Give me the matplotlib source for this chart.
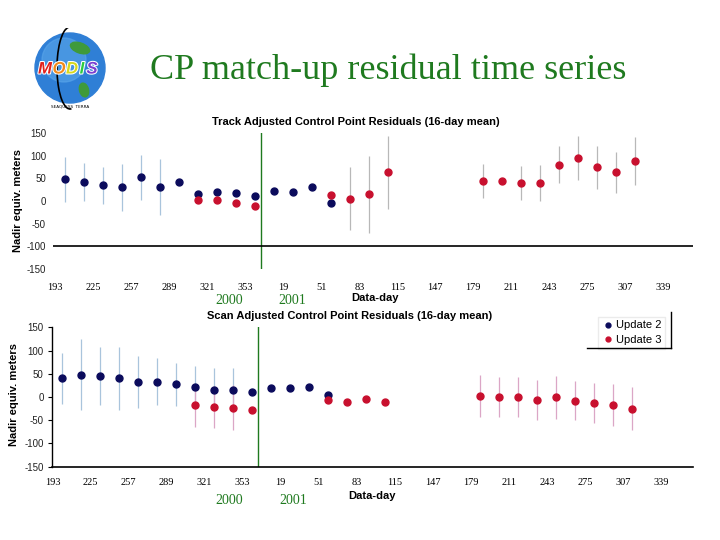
import matplotlib
matplotlib.use("Agg")
import matplotlib.pyplot as plt
import matplotlib.patheffects as pe
from matplotlib.patches import Circle, Ellipse, Arc
from matplotlib.lines import Line2D

# 16-day bin centres (day of year, 2001 days continue past 366)
days_u2 = [201, 217, 233, 249, 265, 281, 297, 313, 329, 345, 361, 377, 393, 409, 425]
days_u3 = [313, 329, 345, 361, 425, 441, 457, 473, 553, 569, 585, 601, 617, 633, 649, 665, 681]

# Track adjusted residuals
track_u2 = [48, 42, 35, 30, 52, 31, 41, 15, 19, 18, 12, 21, 19, 30, -4]
track_u2_err = [50, 42, 41, 51, 50, 62, 0, 0, 0, 0, 0, 0, 0, 0, 0]
track_u3 = [2, 2, -4, -10, 13, 5, 15, 63, 44, 44, 40, 40, 80, 95, 74, 63, 88]
track_u3_err = [0, 0, 0, 0, 0, 70, 85, 81, 38, 0, 38, 39, 41, 48, 47, 46, 53]

# Scan adjusted residuals
scan_u2 = [40, 48, 45, 40, 32, 33, 27, 22, 16, 14, 10, 19, 19, 22, 4]
scan_u2_err = [55, 77, 62, 67, 56, 50, 46, 45, 46, 48, 0, 0, 0, 0, 0]
scan_u3 = [-18, -22, -23, -28, -7, -11, -5, -11, 3, 0, 0, -7, -1, -8, -12, -17, -25]
scan_u3_err = [47, 45, 49, 0, 0, 0, 0, 0, 45, 44, 44, 43, 46, 42, 43, 45, 46]

tick_days = [193 + 32 * k for k in range(17)]
tick_labels = [str(d if d <= 366 else d - 366) for d in tick_days]
y_ticks = [150, 100, 50, 0, -50, -100, -150]

navy = "#0b0b5c"
red = "#c8102e"
green = "#1f7a1f"

fig = plt.figure(figsize=(7.2, 5.4), dpi=100)

# ---- title + logo
fig.text(388 / 720, 1 - 70 / 540, "CP match-up residual time series", ha="center", va="center",
         fontsize=26, color=green, family="Liberation Serif")

logo = fig.add_axes([28 / 720, 1 - 112 / 540, 84 / 720, 84 / 540])
logo.set_xlim(0, 84)
logo.set_ylim(0, 84)
logo.axis("off")
logo.add_patch(Circle((42, 44), 35, color="#2f7fd6"))
logo.add_patch(Circle((36, 52), 22, color="#5aa6ea", alpha=0.6))
logo.add_patch(Ellipse((52, 64), 20, 10, angle=-20, color="#3f9a3a"))
logo.add_patch(Ellipse((56, 22), 9, 14, angle=15, color="#3f9a3a"))
logo.add_patch(Arc((42, 44), 26, 82, theta1=92, theta2=272, color="black", lw=1.2))
modis_x = [17, 31, 44, 54, 64]
for x, ch, c in zip(modis_x, "MODIS", ["#e0201c", "#f28a1a", "#d8d81c", "#2ecc40", "#7a3fd0"]):
    logo.text(x, 43, ch, color=c, fontsize=12, fontweight="bold", style="italic",
              ha="center", va="center", family="Liberation Sans", zorder=5,
              path_effects=[pe.withStroke(linewidth=1.5, foreground="white")])
logo.text(42, 5, "SEAQUESS  TERRA", fontsize=3, ha="center", va="center")


def draw_panel(ax, u2, u2_err, u3, u3_err, u2_ecol, u3_ecol):
    ax.errorbar(days_u2, u2, yerr=u2_err, fmt="none", ecolor=u2_ecol, elinewidth=0.9, capsize=0)
    ax.errorbar(days_u3, u3, yerr=u3_err, fmt="none", ecolor=u3_ecol, elinewidth=0.9, capsize=0)
    ax.plot(days_u2, u2, "o", color=navy, ms=5, label="Update 2", zorder=3)
    ax.plot(days_u3, u3, "o", color=red, ms=5, label="Update 3", zorder=3)
    ax.axvline(366, color=green, lw=1)
    ax.set_ylim(-150, 150)
    ax.set_yticks(y_ticks)
    ax.set_yticklabels([str(v) for v in y_ticks], fontsize=7, color="#222222", family="Liberation Sans")
    ax.set_xticks(tick_days)
    ax.set_xticklabels(tick_labels, fontsize=7.5, family="Liberation Serif")
    ax.set_facecolor("none")


# ---- top panel
ax1 = fig.add_axes([53 / 720, 1 - 269 / 540, 640 / 720, 136 / 540])
draw_panel(ax1, track_u2, track_u2_err, track_u3, track_u3_err, "#a9c4dc", "#b8b8b8")
ax1.set_xlim(191, 730)
ax1.axhline(-100, color="black", lw=1.2)
for s in ax1.spines.values():
    s.set_visible(False)
ax1.tick_params(axis="x", length=0, pad=10)
ax1.tick_params(axis="y", length=0, pad=5)
ax1.set_xticks([609, 673], minor=True)
ax1.tick_params(axis="x", which="minor", length=3, direction="out")

# ---- bottom panel
ax2 = fig.add_axes([52 / 720, 1 - 466.7 / 540, 641 / 720, 139.4 / 540])
draw_panel(ax2, scan_u2, scan_u2_err, scan_u3, scan_u3_err, "#a9c4dc", "#dba6c6")
ax2.set_xlim(192.5, 732)
for s in ["top", "right"]:
    ax2.spines[s].set_visible(False)
ax2.spines["bottom"].set_linewidth(1.2)
ax2.spines["left"].set_linewidth(1)
ax2.tick_params(axis="x", length=0, pad=8)
ax2.tick_params(axis="y", length=3, pad=3)
ax2.set_xticks([225, 545, 577, 609], minor=True)
ax2.tick_params(axis="x", which="minor", length=3, direction="out")

leg = ax2.legend(loc="upper right", bbox_to_anchor=(671 / 720, 1 - 311 / 540), bbox_transform=fig.transFigure,
                 markerscale=0.7, handletextpad=0.1, handlelength=1.2, borderpad=0.35,
                 labelspacing=0.4, fancybox=False, prop={"family": "Liberation Sans", "size": 8})
leg.get_frame().set_edgecolor("#e6e6e6")
fig.add_artist(Line2D([671 / 720, 671 / 720], [1 - 312 / 540, 1 - 348 / 540], color="black", lw=1))
fig.add_artist(Line2D([587 / 720, 671 / 720], [1 - 348 / 540, 1 - 348 / 540], color="black", lw=1))

# ---- panel texts
fig.text(356 / 720, 1 - 122 / 540, "Track Adjusted Control Point Residuals (16-day mean)", ha="center",
         va="center", fontsize=8, fontweight="bold", family="Liberation Sans")
fig.text(350 / 720, 1 - 316 / 540, "Scan Adjusted Control Point Residuals (16-day mean)", ha="center",
         va="center", fontsize=8, fontweight="bold", family="Liberation Sans")
fig.text(18 / 720, 1 - 200 / 540, "Nadir equiv. meters", rotation=90, ha="center", va="center",
         fontsize=8, fontweight="bold", family="Liberation Sans")
fig.text(14 / 720, 1 - 395 / 540, "Nadir equiv. meters", rotation=90, ha="center", va="center",
         fontsize=8, fontweight="bold", family="Liberation Sans")
fig.text(375 / 720, 1 - 298 / 540, "Data-day", ha="center", va="center", fontsize=8,
         fontweight="bold", family="Liberation Sans")
fig.text(372 / 720, 1 - 496 / 540, "Data-day", ha="center", va="center", fontsize=8,
         fontweight="bold", family="Liberation Sans")
for x, y, t in [(229, 301, "2000"), (292, 301, "2001"), (229, 500, "2000"), (293, 500, "2001")]:
    fig.text(x / 720, 1 - y / 540, t, ha="center", va="center", fontsize=10, color=green,
             family="Liberation Serif")

plt.savefig("out.png", dpi=100)
